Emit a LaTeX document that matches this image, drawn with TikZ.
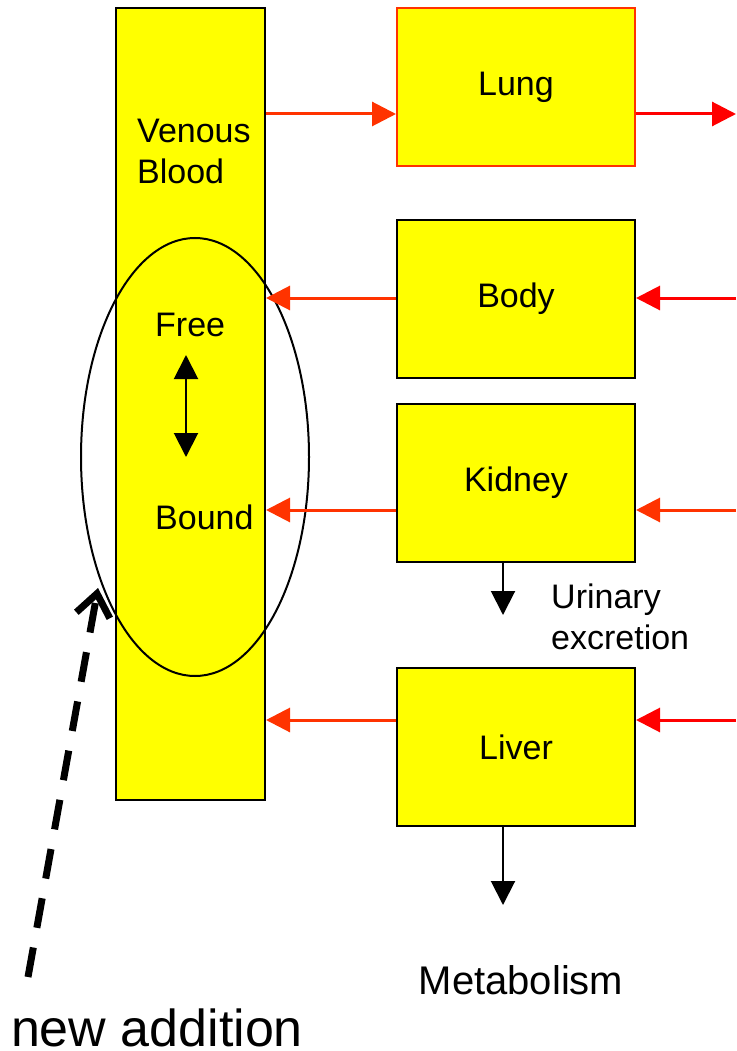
\documentclass[tikz,border=0pt]{standalone}
\usepackage{fontspec}
\setmainfont{Liberation Sans}
\usetikzlibrary{arrows.meta,shapes.geometric}
\definecolor{boxyellow}{HTML}{FFFF00}
\definecolor{orred}{HTML}{FF3300}
\definecolor{pured}{HTML}{FF0000}
\begin{document}
\begin{tikzpicture}[x=1pt,y=-1pt,
  organ/.style={draw=black, line width=2pt, fill=boxyellow, minimum width=238pt,
    minimum height=158pt, inner sep=0pt, font=\fontsize{34}{41}\selectfont},
  flow/.style={line width=3pt, -{Triangle[length=24pt,width=24pt]}},
  outflow/.style={line width=2pt, -{Triangle[length=24pt,width=24pt]}},
  lbl/.style={inner sep=0pt, font=\fontsize{34}{41}\selectfont, align=left}]
\useasboundingbox (0,0) rectangle (736,1051);
% venous blood column
\node[draw=black, line width=2pt, fill=boxyellow, minimum width=149pt,
  minimum height=792pt, inner sep=0pt] (venous) at (190.5,404) {};
\node[lbl, anchor=west] (vblabel) at (137,151) {Venous\\Blood};
% organs
\node[organ, draw=orred] (lung) at (516,87) {Lung};
\node[organ] (body) at (516,299) {Body};
\node[organ] (kidney) at (516,483) {Kidney};
\node[organ] (liver) at (516,747) {Liver};
% ellipse
\node[draw=black, line width=2pt, ellipse, minimum width=228pt, minimum height=438pt,
  inner sep=0pt] (pool) at (195,457) {};
\node[lbl, anchor=west] (free) at (155,325) {Free};
\node[lbl, anchor=west] (bound) at (155,517) {Bound};
\coordinate (fbtop) at (186,355);
\coordinate (fbbot) at (186,457);
\draw[line width=2pt, {Triangle[length=24pt,width=24pt]}-{Triangle[length=24pt,width=24pt]}] (fbtop) -- (fbbot);
% flows
\coordinate (ly) at (0,114);
\coordinate (lungout) at (736,114);
\coordinate (bodyin) at (736,298);
\coordinate (kidin) at (736,510);
\coordinate (livin) at (736,720);
\draw[flow, orred] (venous.east |- ly) -- (lung.west |- ly);
\draw[flow, pured] (lung.east |- ly) -- (lungout);
\draw[flow, pured] (bodyin) -- (body.east |- bodyin);
\draw[flow, orred] (body.west |- bodyin) -- (venous.east |- bodyin);
\draw[flow, orred] (kidin) -- (kidney.east |- kidin);
\draw[flow, orred] (kidney.west |- kidin) -- (venous.east |- kidin);
\draw[flow, pured] (livin) -- (liver.east |- livin);
\draw[flow, orred] (liver.west |- livin) -- (venous.east |- livin);
% excretion and metabolism
\coordinate (urtip) at (503,615);
\coordinate (mettip) at (503,905);
\draw[outflow] (kidney.south -| urtip) -- (urtip);
\draw[outflow] (liver.south -| mettip) -- (mettip);
\node[lbl, anchor=west] (urinary) at (551,617) {Urinary\\excretion};
\node[inner sep=0pt, font=\fontsize{40}{48}\selectfont] (metab) at (521,980) {Metabolism};
% new addition
\node[inner sep=0pt, font=\fontsize{52}{60}\selectfont] (newadd) at (157,1028) {new addition};
\coordinate (dashstart) at (28,977);
\coordinate (dashtip) at (98,588);
\draw[line width=7pt, dash pattern=on 30pt off 20pt,
  -{Straight Barb[length=22pt,width=34pt]}] (dashstart) -- (dashtip);
\end{tikzpicture}
\end{document}
